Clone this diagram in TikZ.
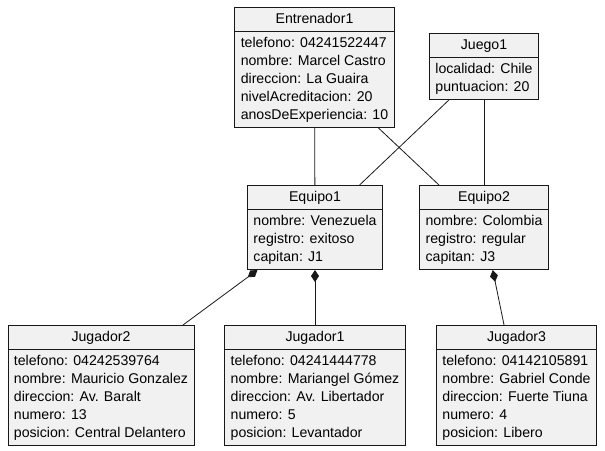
\documentclass[tikz,border=0pt]{standalone}
\usepackage{fontspec}
\setmainfont{Liberation Sans}
\usetikzlibrary{shapes.multipart,arrows.meta}
\definecolor{cajafondo}{HTML}{F1F1F1}
\definecolor{borde}{HTML}{181818}
\newcommand{\atributos}[1]{\begin{tabular}{@{}l@{}}#1\end{tabular}}
\begin{document}
\begin{tikzpicture}[x=0.75pt,y=-0.75pt,
    objeto/.style={draw=borde, fill=cajafondo, line width=0.6pt,
      rectangle split, rectangle split parts=2,
      rectangle split part align={center,left},
      inner xsep=4.5pt, inner ysep=2pt, anchor=north,
      font=\fontsize{10.6}{13.5}\selectfont},
    enlace/.style={draw=borde, line width=0.6pt},
    compone/.style={enlace, {Diamond[length=12*0.75pt, width=8*0.75pt]}-}]
  \useasboundingbox (0,0) rectangle (605,450);
  % Objetos
  \node[objeto] (entrenador1) at (314.5,7) {\strut Entrenador1
    \nodepart{two}\atributos{telefono: 04241522447\\ nombre: Marcel Castro\\
      direccion: La Guaira\\ nivelAcreditacion: 20\\ anosDeExperiencia: 10}};
  \node[objeto] (juego1) at (484,33) {\strut Juego1
    \nodepart{two}\atributos{localidad: Chile\\ puntuacion: 20}};
  \node[objeto] (equipo1) at (315,185) {\strut Equipo1
    \nodepart{two}\atributos{nombre: Venezuela\\ registro: exitoso\\ capitan: J1}};
  \node[objeto] (equipo2) at (484,185) {\strut Equipo2
    \nodepart{two}\atributos{nombre: Colombia\\ registro: regular\\ capitan: J3}};
  \node[objeto] (jugador2) at (101,325) {\strut Jugador2
    \nodepart{two}\atributos{telefono: 04242539764\\ nombre: Mauricio Gonzalez\\
      direccion: Av. Baralt\\ numero: 13\\ posicion: Central Delantero}};
  \node[objeto] (jugador1) at (315,325) {\strut Jugador1
    \nodepart{two}\atributos{telefono: 04241444778\\ nombre: Mariangel Gómez\\
      direccion: Av. Libertador\\ numero: 5\\ posicion: Levantador}};
  \node[objeto] (jugador3) at (516.5,325) {\strut Jugador3
    \nodepart{two}\atributos{telefono: 04142105891\\ nombre: Gabriel Conde\\
      direccion: Fuerte Tiuna\\ numero: 4\\ posicion: Libero}};
  % Enlaces
  \draw[enlace] (entrenador1) -- (equipo1);
  \draw[enlace] (entrenador1) -- (equipo2);
  \draw[enlace] (juego1) -- (equipo1);
  \draw[enlace] (juego1) -- (equipo2);
  % Composiciones
  \draw[compone] (equipo1) -- (jugador2);
  \draw[compone] (equipo1) -- (jugador1);
  \draw[compone] (equipo2) -- (jugador3);
\end{tikzpicture}
\end{document}
